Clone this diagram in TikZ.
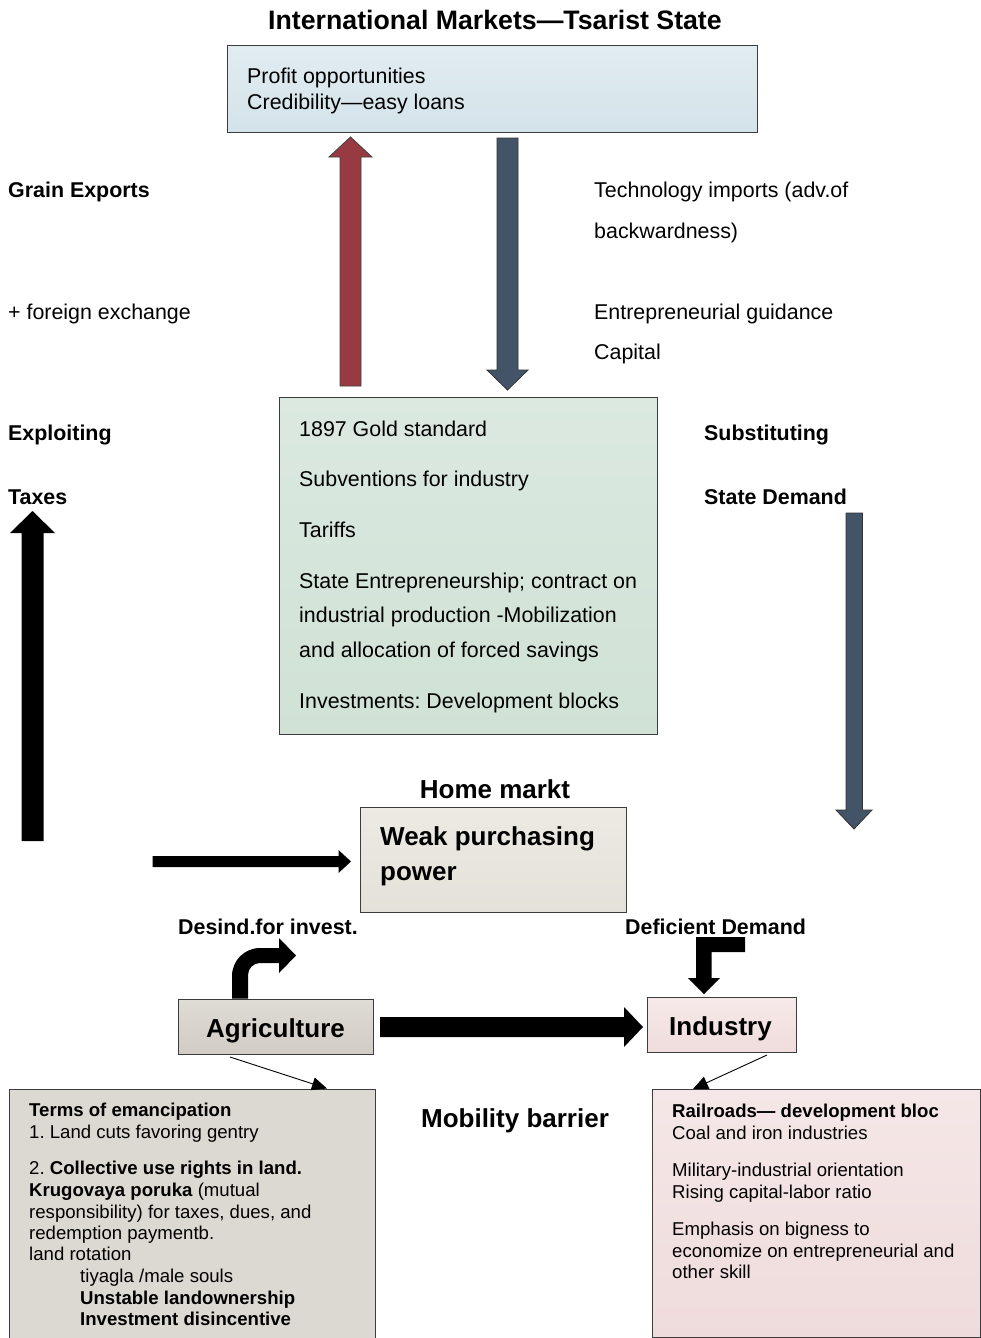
\documentclass[tikz,border=0pt]{standalone}
\usepackage{fontspec}
\setmainfont{Liberation Sans}
\usetikzlibrary{arrows.meta}
\frenchspacing
\definecolor{arrowred}{HTML}{983A42}
\definecolor{arrowblue}{HTML}{435469}
\definecolor{boxedge}{HTML}{3C3C3C}
\definecolor{intlTop}{HTML}{E1ECF1}
\definecolor{intlBot}{HTML}{D4E3EA}
\definecolor{stateTop}{HTML}{DBE9E0}
\definecolor{stateBot}{HTML}{D0E1D5}
\definecolor{weakTop}{HTML}{EDEAE4}
\definecolor{weakBot}{HTML}{E4E1D9}
\definecolor{agriTop}{HTML}{DFDBD5}
\definecolor{agriBot}{HTML}{D1CCC5}
\definecolor{indTop}{HTML}{F6E9E9}
\definecolor{indBot}{HTML}{F0DCDC}
\definecolor{agboxFill}{HTML}{DCD9D3}
\definecolor{inboxTop}{HTML}{F5E7E7}
\definecolor{inboxBot}{HTML}{EFDBDC}
\begin{document}
\frenchspacing
\begin{tikzpicture}[x=1pt,y=-1pt,
  panel/.style={draw=boxedge, line width=1.2pt, inner sep=0pt, anchor=north west},
  txt/.style={inner sep=0pt, anchor=base west, font=\fontsize{21.4}{25}\selectfont},
  txtb/.style={inner sep=0pt, anchor=base west, font=\fontsize{21.4}{25}\selectfont\bfseries},
  big/.style={inner sep=0pt, anchor=base, font=\fontsize{26}{30}\selectfont\bfseries},
  bigw/.style={inner sep=0pt, anchor=base west, font=\fontsize{26}{30}\selectfont\bfseries},
  small/.style={inner sep=0pt, anchor=base west, font=\fontsize{18.6}{22}\selectfont},
  smallb/.style={inner sep=0pt, anchor=base west, font=\fontsize{18.6}{22}\selectfont\bfseries},
  redblock/.style={fill=arrowred, draw=black!75, line width=0.8pt},
  blueblock/.style={fill=arrowblue, draw=black!80, line width=0.8pt},
  blackblock/.style={fill=black},
  thinarrow/.style={draw=black, line width=0.9pt, -{Triangle[length=15pt,width=13pt]}}
]
\useasboundingbox (0,0) rectangle (981,1338);
\clip (0,0) rectangle (981,1338);

% ---- top: international markets ----
\node[big, font=\fontsize{26.7}{30}\selectfont\bfseries] (title) at (495,29.5) {International Markets—Tsarist State};
\node[panel, top color=intlTop, bottom color=intlBot,
      minimum width=530pt, minimum height=87pt] (intl) at (227,45) {};
\node[txt] (p1) at (247,84) {Profit opportunities};
\node[txt] (p2) at (247,109) {Credibility—easy loans};

% flows between markets and state
\filldraw[redblock] (340,386) -- (340,157) -- (329,157) -- (350.5,137) -- (372,157)
  -- (361,157) -- (361,386) -- cycle;
\filldraw[blueblock] (497,138) -- (497,370) -- (487,370) -- (507.5,390) -- (528,370)
  -- (518,370) -- (518,138) -- cycle;

% side labels, left
\node[txtb] (l1) at (8,197) {Grain Exports};
\node[txt]  (l2) at (8,319) {+ foreign exchange};
\node[txtb] (l3) at (8,440) {Exploiting};
\node[txtb] (l4) at (8,504) {Taxes};
% side labels, right
\node[txt]  (r1) at (594,197) {Technology imports (adv.of};
\node[txt]  (r2) at (594,238) {backwardness)};
\node[txt]  (r3) at (594,319) {Entrepreneurial guidance};
\node[txt]  (r4) at (594,359) {Capital};
\node[txtb] (r5) at (704,440) {Substituting};
\node[txtb] (r6) at (704,504) {State Demand};

% ---- state policy box ----
\node[panel, top color=stateTop, bottom color=stateBot,
      minimum width=378pt, minimum height=337pt] (state) at (279,397) {};
\node[txt] (s1) at (299,436) {1897 Gold standard};
\node[txt] (s2) at (299,486) {Subventions for industry};
\node[txt] (s3) at (299,537) {Tariffs};
\node[txt] (s4) at (299,588) {State Entrepreneurship; contract on};
\node[txt] (s5) at (299,622) {industrial production -Mobilization};
\node[txt] (s6) at (299,657) {and allocation of forced savings};
\node[txt] (s7) at (299,708) {Investments: Development blocks};

% taxes up, state demand down
\fill[blackblock] (21.5,841) -- (21.5,533) -- (10,533) -- (32.5,511) -- (55,533)
  -- (43.5,533) -- (43.5,841) -- cycle;
\filldraw[blueblock] (846,513) -- (846,810) -- (836,810) -- (854,829) -- (872,810)
  -- (862.5,810) -- (862.5,513) -- cycle;

% ---- home market ----
\node[big] (home) at (495,798) {Home markt};
\node[panel, top color=weakTop, bottom color=weakBot,
      minimum width=266pt, minimum height=105pt] (weak) at (360,807) {};
\node[bigw] (w1) at (380,845) {Weak purchasing};
\node[bigw] (w2) at (380,880) {power};
\fill[blackblock] (152.5,856) -- (338.5,856) -- (338.5,850) -- (351,861.5) -- (338.5,873)
  -- (338.5,867) -- (152.5,867) -- cycle;

\node[txtb] (dis) at (178,934) {Desind.for invest.};
\node[txtb] (def) at (625,934) {Deficient Demand};

% ---- sectors ----
\node[panel, top color=agriTop, bottom color=agriBot,
      minimum width=195pt, minimum height=55pt] (agri) at (178,998.5) {};
\node[big] (agrit) at (275.5,1037) {Agriculture};
\node[panel, top color=indTop, bottom color=indBot,
      minimum width=149pt, minimum height=55pt] (ind) at (646.5,997) {};
\node[big] (indt) at (720.5,1035) {Industry};

% bent arrow out of agriculture
\fill[blackblock] (232,998.5) -- (232,976) .. controls (232,960.5) and (244.5,948) .. (260,948)
  -- (279,948) -- (279,938) -- (296,955.5) -- (279,973) -- (279,963)
  -- (260,963) .. controls (253.4,963) and (248,968.4) .. (248,975) -- (248,998.5) -- cycle;
% elbow arrow into industry
\fill[blackblock] (745,937) -- (696,937) -- (696,978) -- (688,978) -- (704,994) -- (720,978)
  -- (711.5,978) -- (711.5,952) -- (745,952) -- cycle;
% agriculture to industry
\fill[blackblock] (380,1017) -- (624,1017) -- (624,1007) -- (643,1027) -- (624,1047)
  -- (624,1037) -- (380,1037) -- cycle;

\node[big] (mob) at (515,1127) {Mobility barrier};

% ---- detail boxes ----
\node[panel, fill=agboxFill, minimum width=366pt, minimum height=260pt]
  (agbox) at (8.5,1088.5) {};
\node[panel, top color=inboxTop, bottom color=inboxBot,
      minimum width=328pt, minimum height=247.5pt] (inbox) at (652,1089) {};

\coordinate (agout) at (230,1057);
\coordinate (agin) at (327,1088.5);
\draw[thinarrow] (agout) -- (agin);
\coordinate (inout) at (767,1055);
\coordinate (inin) at (693,1089);
\draw[thinarrow] (inout) -- (inin);

\node[smallb] (a1) at (29,1116.5) {Terms of emancipation};
\node[small]  (a2) at (29,1138.5) {1. Land cuts favoring gentry};
\node[small]  (a3) at (29,1174.5) {2. \textbf{Collective use rights in land.}};
\node[small]  (a4) at (29,1196.5) {\textbf{Krugovaya poruka} (mutual};
\node[small]  (a5) at (29,1218.5) {responsibility) for taxes, dues, and};
\node[small]  (a6) at (29,1239.5) {redemption paymentb.};
\node[small]  (a7) at (29,1260.5) {land rotation};
\node[small]  (a8) at (80,1282.5) {tiyagla /male souls};
\node[smallb] (a9) at (80,1304.5) {Unstable landownership};
\node[smallb] (a10) at (80,1325.5) {Investment disincentive};

\node[smallb] (b1) at (672,1117.5) {Railroads— development bloc};
\node[small]  (b2) at (672,1139.5) {Coal and iron industries};
\node[small]  (b3) at (672,1176.5) {Military-industrial orientation};
\node[small]  (b4) at (672,1198.5) {Rising capital-labor ratio};
\node[small]  (b5) at (672,1235.5) {Emphasis on bigness to};
\node[small]  (b6) at (672,1257.5) {economize on entrepreneurial and};
\node[small]  (b7) at (672,1278.5) {other skill};
\end{tikzpicture}
\end{document}
